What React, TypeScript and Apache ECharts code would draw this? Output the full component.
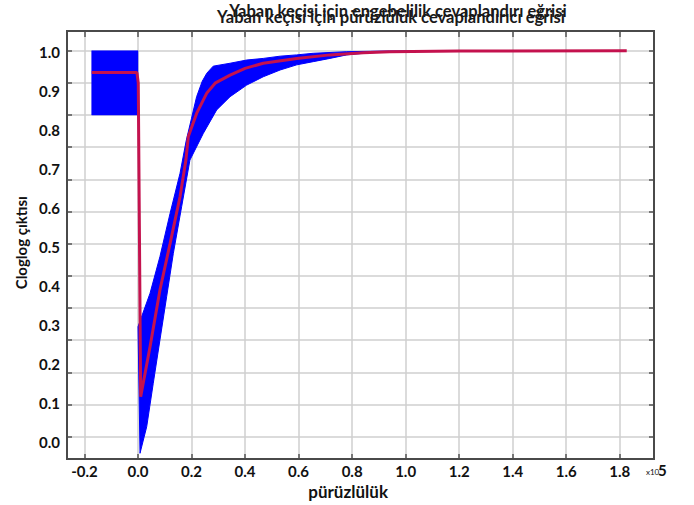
import React, { useEffect, useRef } from 'react';
import * as echarts from 'echarts';

const titleTexts = [
  'Yaban keçisi için engebelilik cevaplandırı eğrisi',
  'Yaban keçisi için pürüzlülük cevaplandırıcı eğrisi',
];
const xAxisName = 'pürüzlülük';
const yAxisName = 'Cloglog çıktısı';
const xScaleLabel = 'x10';
const xScaleExp = '5';

// blue box (left part)
const boxX = [-0.173, 0.0];
const boxY = [0.8, 1.0];

// blue band envelopes
const upperX = [0.0, 0.045, 0.082, 0.12, 0.157, 0.18, 0.2, 0.219, 0.24, 0.257, 0.281, 0.344, 0.406, 0.468, 0.531, 0.593, 0.655, 0.78, 0.94, 1.2];
const upperY = [0.142, 0.246, 0.36, 0.495, 0.619, 0.72, 0.79, 0.857, 0.905, 0.93, 0.952, 0.961, 0.971, 0.976, 0.983, 0.987, 0.992, 0.997, 0.999, 1.0];
const lowerX = [0.0075, 0.0325, 0.057, 0.082, 0.107, 0.132, 0.163, 0.194, 0.244, 0.294, 0.344, 0.406, 0.468, 0.531, 0.593, 0.655, 0.717, 0.78, 0.842, 0.94, 1.2];
const lowerY = [-0.2515, -0.169, -0.034, 0.101, 0.235, 0.37, 0.515, 0.66, 0.743, 0.816, 0.857, 0.893, 0.919, 0.94, 0.956, 0.966, 0.976, 0.987, 0.992, 0.997, 0.9995];

// mean response (red line)
const meanX = [-0.173, -0.004, 0.001, 0.01, 0.045, 0.082, 0.12, 0.157, 0.179, 0.188, 0.219, 0.257, 0.288, 0.344, 0.4, 0.468, 0.593, 0.717, 0.842, 0.94, 1.2, 1.826];
const meanY = [0.932, 0.932, 0.9, -0.0755, 0.08, 0.256, 0.401, 0.546, 0.66, 0.733, 0.805, 0.868, 0.899, 0.924, 0.945, 0.961, 0.976, 0.987, 0.994, 0.997, 0.999, 1.0];

export default function App() {
  const ref = useRef<HTMLDivElement>(null);

  useEffect(() => {
    if (!ref.current) return;
    const chart = echarts.init(ref.current, null, { renderer: 'svg' });

    const W = 694, H = 505;
    const fL = 67, fR = 654, fT = 31, fB = 459;
    // data-space calibration
    const x0px = 138, pxPerX = 267.65;
    const y1px = 50.7, pxPerY = 321.7;
    const xMin = (fL - x0px) / pxPerX, xMax = (fR - x0px) / pxPerX;
    const yMax = 1 - (fT - y1px) / pxPerY, yMin = 1 - (fB - y1px) / pxPerY;
    const gridXL = x0px - 0.2 * pxPerX, gridXR = x0px + 1.8 * pxPerX;
    const gridYT = y1px, gridYB = y1px + 1.2 * pxPerY;

    const font = 'Lato, "Open Sans", sans-serif';
    const gridColor = '#cfcfcf';
    const tickColor = '#555';

    const option: any = {
      animation: false,
      backgroundColor: '#ffffff',
      grid: [
        { left: fL, right: W - fR, top: fT, bottom: H - fB, containLabel: false },
        { left: gridXL, right: W - gridXR, top: fT, bottom: H - fB, containLabel: false },
        { left: fL, right: W - fR, top: gridYT, bottom: H - gridYB, containLabel: false },
        { left: fL, right: W - fR, top: 51.7, bottom: H - 441.7, containLabel: false },
      ],
      xAxis: [
        { type: 'value', gridIndex: 0, min: xMin, max: xMax, show: false },
        {
          type: 'value', gridIndex: 1, min: -0.2, max: 1.8, interval: 0.2, position: 'bottom',
          axisLine: { show: false },
          axisTick: { show: true, inside: true, length: 5, lineStyle: { color: tickColor, width: 1.5 } },
          splitLine: { show: true, lineStyle: { color: gridColor, width: 1.5 } },
          axisLabel: {
            margin: 4, fontFamily: font, fontWeight: 'bold', fontSize: 15, color: '#111',
            formatter: (v: number) => v.toFixed(1),
          },
          name: xAxisName, nameLocation: 'middle', nameGap: 19,
          nameTextStyle: { fontFamily: font, fontWeight: 'bold', fontSize: 17, color: '#111', padding: [0, 8, 0, 0] },
        },
        {
          type: 'value', gridIndex: 1, min: -0.2, max: 1.8, interval: 0.2, position: 'top',
          axisLine: { show: false },
          axisTick: { show: true, inside: true, length: 6, lineStyle: { color: tickColor, width: 1.5 } },
          splitLine: { show: false },
          axisLabel: { show: false },
        },
        { type: 'value', gridIndex: 2, min: 0, max: 1, show: false },
        { type: 'value', gridIndex: 3, min: 0, max: 1, show: false },
      ],
      yAxis: [
        { type: 'value', gridIndex: 0, min: yMin, max: yMax, show: false },
        { type: 'value', gridIndex: 1, min: 0, max: 1, show: false },
        {
          type: 'value', gridIndex: 2, min: -0.2, max: 1.0, interval: 0.1, position: 'left',
          axisLine: { show: false },
          axisTick: { show: true, inside: true, length: 5, lineStyle: { color: tickColor, width: 1.5 } },
          splitLine: { show: true, lineStyle: { color: gridColor, width: 1.5 } },
          axisLabel: { show: false },
        },
        {
          type: 'value', gridIndex: 2, min: -0.2, max: 1.0, interval: 0.1, position: 'right',
          axisLine: { show: false },
          axisTick: { show: true, inside: true, length: 5, lineStyle: { color: tickColor, width: 1.5 } },
          splitLine: { show: false },
          axisLabel: { show: false },
        },
        {
          type: 'value', gridIndex: 3, min: 0, max: 1, interval: 0.1, position: 'left',
          axisLine: { show: false },
          axisTick: { show: false },
          splitLine: { show: false },
          axisLabel: {
            margin: 7, fontFamily: font, fontWeight: 'bold', fontSize: 15, color: '#111',
            formatter: (v: number) => v.toFixed(1),
          },
          name: yAxisName, nameLocation: 'middle', nameGap: 39, nameRotate: 90,
          nameTextStyle: { fontFamily: font, fontWeight: 'bold', fontSize: 15, color: '#111', padding: [0, 0, 0, 8] },
        },
      ],
      series: [
        {
          type: 'custom',
          xAxisIndex: 0,
          yAxisIndex: 0,
          clip: false,
          z: 3,
          data: [[0, 0]],
          renderItem: (_params: any, api: any) => {
            const up = upperX.map((x, i) => api.coord([x, upperY[i]]));
            const lo = lowerX.map((x, i) => api.coord([x, lowerY[i]])).reverse();
            const box = [
              api.coord([boxX[0], boxY[1]]),
              api.coord([boxX[1], boxY[1]]),
              api.coord([boxX[1], boxY[0]]),
              api.coord([boxX[0], boxY[0]]),
            ];
            return {
              type: 'group',
              children: [
                { type: 'polygon', shape: { points: box }, style: { fill: '#0000ff', stroke: '#0000ff', lineWidth: 0.5 } },
                { type: 'polygon', shape: { points: up.concat(lo) }, style: { fill: '#0000ff', stroke: '#0000ff', lineWidth: 1 } },
              ],
            };
          },
        },
        {
          type: 'line',
          xAxisIndex: 0,
          yAxisIndex: 0,
          clip: false,
          z: 4,
          symbol: 'none',
          data: meanX.map((x, i) => [x, meanY[i]]),
          lineStyle: { color: '#c4124e', width: 3 },
        },
      ],
      graphic: [
        {
          type: 'rect', z: 100, silent: true,
          shape: { x: fL, y: fT, width: fR - fL, height: fB - fT },
          style: { fill: 'none', stroke: '#4a4a4a', lineWidth: 2 },
        },
        {
          type: 'text', z: 100, x: 398, y: 11,
          style: { text: titleTexts[0], fontFamily: font, fontWeight: 'bold', fontSize: 16.5, fill: '#1a1a1a', align: 'center', verticalAlign: 'middle' },
        },
        {
          type: 'text', z: 101, x: 391, y: 16.5,
          style: { text: titleTexts[1], fontFamily: font, fontWeight: 'bold', fontSize: 16.5, fill: '#1a1a1a', align: 'center', verticalAlign: 'middle' },
        },
        {
          type: 'text', z: 100, x: 646, y: 472,
          style: { text: xScaleLabel, fontFamily: font, fontSize: 8, fill: '#111', align: 'left', verticalAlign: 'middle' },
        },
        {
          type: 'text', z: 100, x: 658, y: 470,
          style: { text: xScaleExp, fontFamily: font, fontWeight: 'bold', fontSize: 15, fill: '#111', align: 'left', verticalAlign: 'middle' },
        },
      ],
    };

    chart.setOption(option);
    return () => chart.dispose();
  }, []);

  return (
    <div
      ref={ref}
      style={{ position: 'fixed', left: 0, top: 0, width: 694, height: 505, background: '#fff' }}
    />
  );
}
